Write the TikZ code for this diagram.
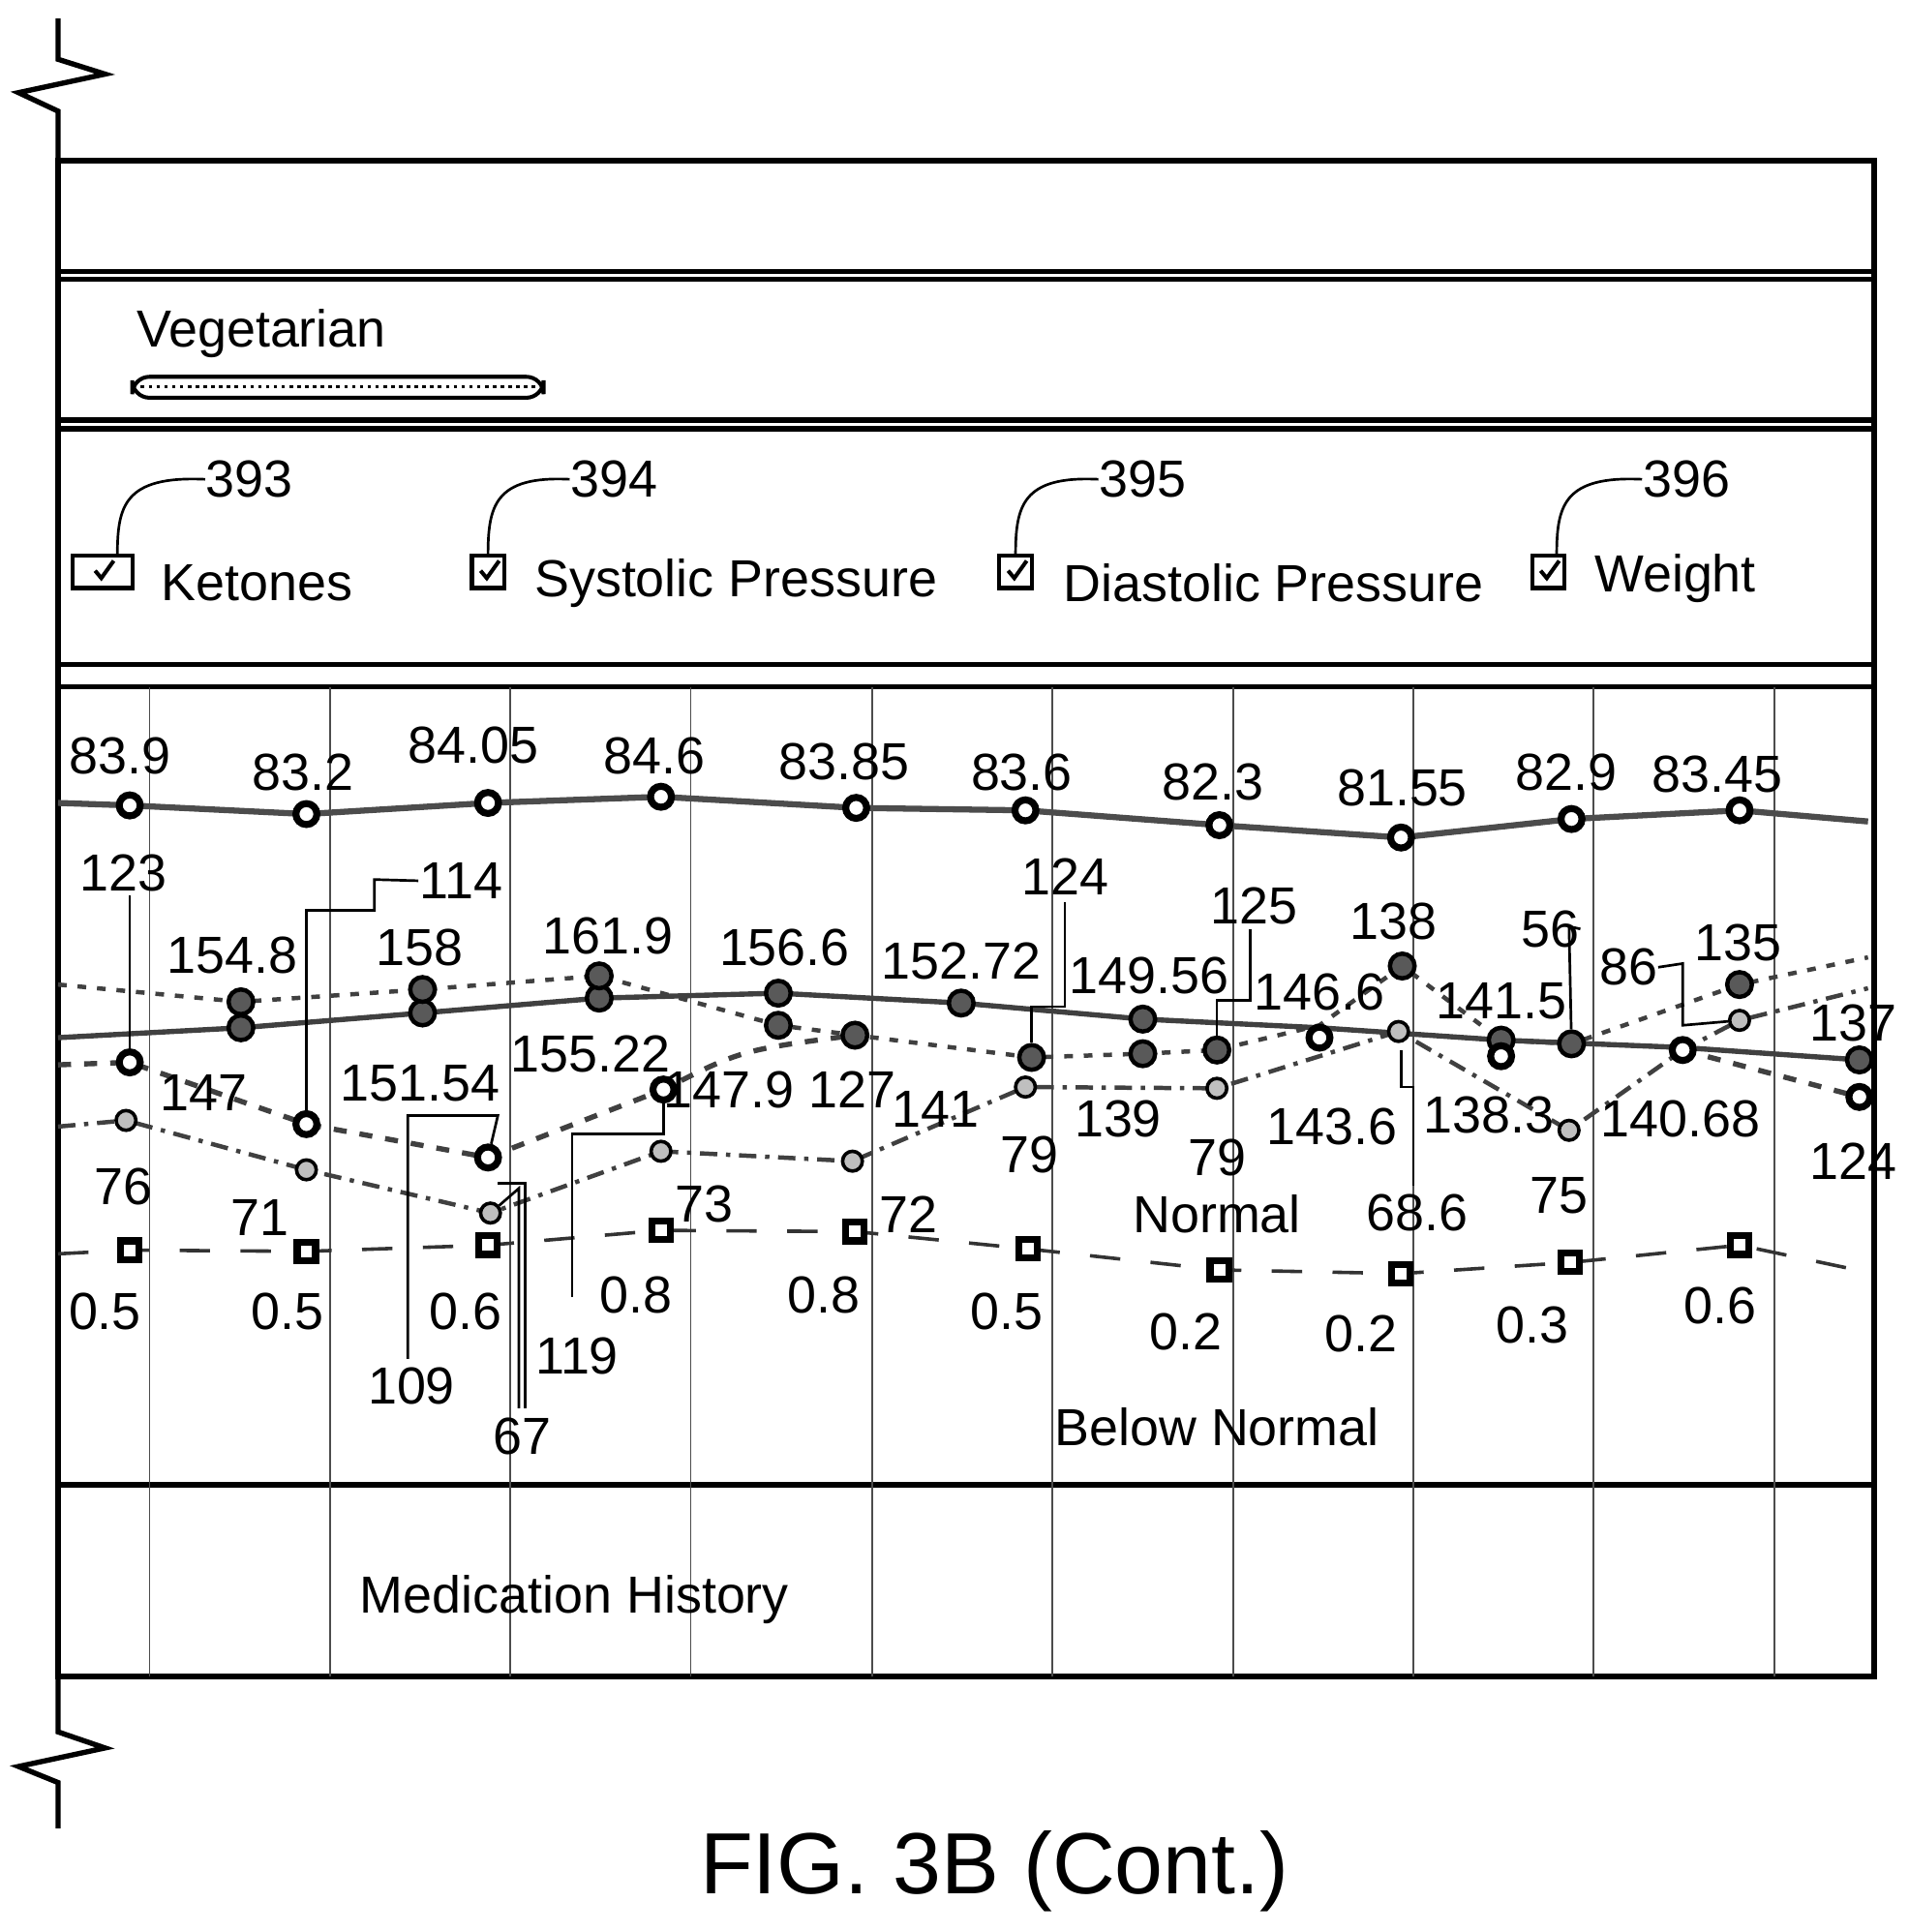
\documentclass[tikz,border=0pt]{standalone}
\usepackage{fontspec}
\setmainfont{Liberation Sans}
\begin{document}
\begin{tikzpicture}[x=0.01cm,y=-0.01cm,
  every node/.style={font=\fontsize{12}{14}\selectfont},
  lbl/.style={inner sep=0pt},
  frame/.style={line width=1.2pt},
  grid/.style={line width=0.4pt, black!70},
  opn/.style={circle,draw,line width=1.6pt,fill=white,minimum size=0.17cm,inner sep=0pt},
  drk/.style={circle,draw,line width=1pt,fill=black!65,minimum size=0.2cm,inner sep=0pt},
  gry/.style={circle,draw,line width=0.8pt,fill=black!25,minimum size=0.16cm,inner sep=0pt},
  sq/.style={rectangle,draw,line width=1.6pt,fill=white,minimum size=0.15cm,inner sep=0pt},
  chk/.style={rectangle,draw,line width=0.9pt,minimum width=0.26cm,minimum height=0.26cm,inner sep=0pt},
  lead/.style={line width=0.6pt},
  wline/.style={line width=1.4pt, black!70},
  sline/.style={line width=1.2pt, black!75},
  dline/.style={line width=1.2pt, black!75, dash pattern=on 3pt off 3pt},
  cline/.style={line width=1pt, black!75, dash pattern=on 2pt off 2.5pt},
  ddline/.style={line width=1pt, black!75, dash pattern=on 4pt off 2pt on 1pt off 2pt},
  eline/.style={line width=0.8pt, black!80, dash pattern=on 7pt off 7pt}]
\useasboundingbox (0,0) rectangle (1545,1564);
% left border with breaks
\draw[frame] (47,15)--(47,48)--(85,60)--(15,75)--(47,90)--(47,1402)--(85,1415)--(15,1430)--(47,1443)--(47,1480);
% frame
\draw[frame] (47,130) rectangle (1517,1357);
\foreach \yy in {220,226,340,347,538,556,1202}{\draw[frame] (47,\yy)--(1517,\yy);}
% grid
\foreach \xx in {121,267,413,559,706,852,998,1144,1290,1436}{\draw[grid] (\xx,556)--(\xx,1357);}
% vegetarian
\node[lbl,anchor=west] (veg) at (110,270) {Vegetarian};
\draw[line width=0.9pt,rounded corners=4pt] (107,305) rectangle (440,322);
\draw[line width=0.8pt,densely dotted] (114,313)--(433,313);
% checkboxes
\node[chk,minimum width=0.48cm] (c1) at (83,463) {}; \node[lbl,anchor=west] at (130,472) {Ketones};
\node[chk] (c2) at (395,463) {}; \node[lbl,anchor=west] at (432,472) {Systolic Pressure};
\node[chk] (c3) at (822,463) {}; \node[lbl,anchor=west] at (860,472) {Diastolic Pressure};
\node[chk] (c4) at (1253,463) {}; \node[lbl,anchor=west] at (1290,468) {Weight};
\foreach \c in {c1,c2,c3,c4}{\draw[line width=0.9pt] ([xshift=-0.06cm,yshift=0.01cm]\c.center)--([xshift=-0.01cm,yshift=-0.05cm]\c.center)--([xshift=0.09cm,yshift=0.09cm]\c.center);}
\node[lbl] (n393) at (202,388) {393}; \draw[lead] (n393.west) .. controls (100,385) and (95,410) .. (95,450);
\node[lbl] (n394) at (497,388) {394}; \draw[lead] (n394.west) .. controls (400,385) and (395,410) .. (395,450);
\node[lbl] (n395) at (925,388) {395}; \draw[lead] (n395.west) .. controls (827,385) and (822,410) .. (822,450);
\node[lbl] (n396) at (1365,388) {396}; \draw[lead] (n396.west) .. controls (1265,385) and (1260,410) .. (1260,450);
% weight series
\draw[wline] (47,650)--(105,652)--(248,659)--(395,650)--(535,645)--(693,654)--(830,656)--(987,668)--(1134,678)--(1272,663)--(1408,656)--(1512,665);
\foreach \p/\q/\t/\lx/\ly [count=\i] in {105/652/83.9/97/612, 248/659/83.2/245/625, 395/650/84.05/383/603, 535/645/84.6/530/612, 693/654/83.85/683/617, 830/656/83.6/827/625, 987/668/82.3/982/633, 1134/678/81.55/1135/638, 1272/663/82.9/1268/625, 1408/656/83.45/1390/627}{
  \node[opn] (w\i) at (\p,\q) {}; \node[lbl] (wl\i) at (\lx,\ly) {\t};}
% series lines
\draw[sline] (47,840)--(195,832)--(342,820)--(485,808)--(630,804)--(778,812)--(925,825)--(1068,832)--(1215,842)--(1362,848)--(1505,858);
\draw[cline] (47,797)--(195,811)--(342,801)--(485,790)--(630,830)--(692,838)--(835,856)--(925,853)--(985,850)--(1068,830)--(1135,782)--(1215,842)--(1272,845)--(1408,797)--(1512,775);
\draw[dline] (47,862)--(105,860)--(248,910)--(395,937)--(537,882) .. controls (600,850) .. (692,838);
\draw[dline] (1362,850)--(1505,888);
\draw[ddline] (47,912)--(102,907)--(248,947)--(397,982)--(535,932)--(690,940)--(830,880)--(985,881)--(1132,835)--(1270,915)--(1362,850)--(1408,826)--(1512,800);
\draw[eline] (47,1015)--(105,1012)--(248,1013)--(395,1008)--(535,996)--(692,997)--(832,1011)--(987,1028)--(1134,1031)--(1271,1022)--(1408,1008)--(1512,1030);
% markers
\foreach \p/\q [count=\i] in {195/832,342/820,485/808,630/804,778/812,925/825,1215/842,1505/858}{\node[drk] (sa\i) at (\p,\q) {};}
\foreach \p/\q [count=\i] in {195/811,342/801,485/790,630/830,692/838,835/856,925/853,985/850,1135/782,1272/845,1408/797}{\node[drk] (sb\i) at (\p,\q) {};}
\foreach \p/\q [count=\i] in {105/860,248/910,395/937,537/882,1068/840,1215/855,1362/850,1505/888}{\node[opn] (sc\i) at (\p,\q) {};}
\foreach \p/\q [count=\i] in {102/907,248/947,397/982,535/932,690/940,830/880,985/881,1132/835,1270/915,1408/826}{\node[gry] (sd\i) at (\p,\q) {};}
\foreach \p/\q [count=\i] in {105/1012,248/1013,395/1008,535/996,692/997,832/1011,987/1028,1134/1031,1271/1022,1408/1008}{\node[sq] (se\i) at (\p,\q) {};}
% value labels
\foreach \t/\lx/\ly in {154.8/188/773,158/340/767,161.9/492/758,156.6/635/767,152.72/778/778,149.56/930/790,146.6/1068/803,141.5/1215/810,138/1128/746,135/1407/763,137/1500/828,124/1500/940,
 147/165/885,151.54/340/877,155.22/478/853,147.9/590/882,127/690/882,141/757/898,139/905/906,143.6/1078/912,138.3/1205/903,140.68/1360/906,
 76/100/961,71/210/986,73/570/975,72/735/983,79/833/935,79/985/937,68.6/1147/982,75/1262/968,
 0.5/85/1062,0.5/233/1062,0.6/377/1062,0.8/515/1048,0.8/667/1048,0.5/815/1062,0.2/960/1078,0.2/1102/1080,0.3/1240/1073,0.6/1392/1057}{\node[lbl] at (\lx,\ly) {\t};}
% reference numerals with leaders
\node[lbl] (r123) at (100,707) {123}; \draw[lead] (105,725)--(sc1);
\node[lbl] (r114) at (373,713) {114}; \draw[lead] (r114.west)--(303,712)--(303,737)--(248,737)--(sc2);
\node[lbl] (r124) at (862,710) {124}; \draw[lead] (862,730)--(862,815)--(835,815)--(sb6);
\node[lbl] (r125) at (1015,733) {125}; \draw[lead] (1012,752)--(1012,810)--(985,810)--(sb8);
\node[lbl] (r56) at (1255,752) {56}; \draw[lead] (r56.east)--(1270,750)--(sb10);
\node[lbl] (r86) at (1318,783) {86}; \draw[lead] (r86.east)--(1362,780)--(1362,830)--(sd10);
\node[lbl] (r109) at (333,1122) {109}; \draw[lead] (330,1100)--(330,903)--(403,903)--(sc3);
\node[lbl] (r119) at (467,1098) {119}; \draw[lead] (463,1050)--(463,918)--(537,918)--(sc4);
\node[lbl] (r67) at (423,1163) {67}; \draw[lead] (420,1140)--(420,962)--(sd3); \draw[lead] (425,1140)--(425,958)--(403,958);
\draw[lead] (1134,850)--(1134,880)--(1144,880)--(1144,960);
% section texts
\node[lbl] at (985,983) {Normal};
\node[lbl] at (985,1155) {Below Normal};
\node[lbl] at (465,1295) {Medication History};
\node[lbl,font=\fontsize{20}{24}\selectfont] at (805,1515) {FIG. 3B (Cont.)};
\end{tikzpicture}
\end{document}
